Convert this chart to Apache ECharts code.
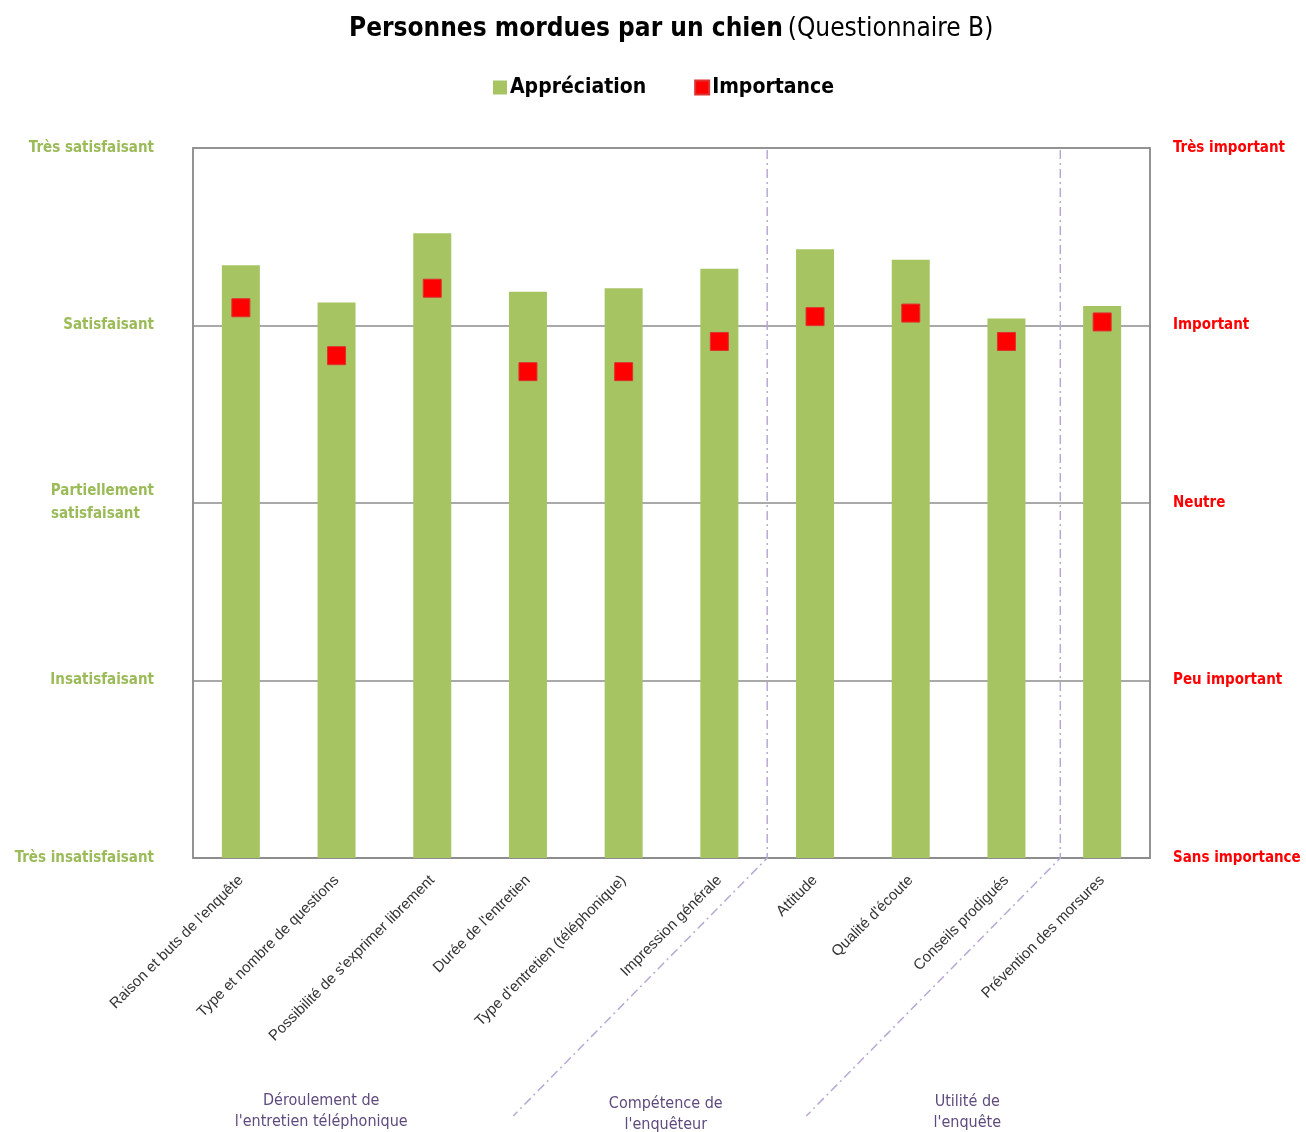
<!DOCTYPE html>
<html><head><meta charset="utf-8">
<script src="https://cdn.jsdelivr.net/npm/echarts@6/dist/echarts.min.js"></script>
<style>html,body{margin:0;padding:0;background:#fff;overflow:hidden}#c{width:1306px;height:1132px}</style>
</head><body><div id="c"></div>
<script>
const categories = [
  "Raison et buts de l'enquête",
  "Type et nombre de questions",
  "Possibilité de s'exprimer librement",
  "Durée de l'entretien",
  "Type d'entretien (téléphonique)",
  "Impression générale",
  "Attitude",
  "Qualité d'écoute",
  "Conseils prodigués",
  "Prévention des morsures"
];
const appreciation = [4.34, 4.13, 4.52, 4.19, 4.21, 4.32, 4.43, 4.37, 4.04, 4.11];
const importance   = [4.10, 3.83, 4.21, 3.74, 3.74, 3.91, 4.05, 4.07, 3.91, 4.02];
const leftLabels  = ["Très insatisfaisant", "Insatisfaisant", "Partiellement\nsatisfaisant   ", "Satisfaisant", "Très satisfaisant"];
const rightLabels = ["Sans importance", "Peu important", "Neutre", "Important", "Très important"];
const groupNames  = ["Déroulement de\nl'entretien téléphonique", "Compétence de\nl'enquêteur", "Utilité de\nl'enquête"];
const separatorAfter = [5, 8]; // separator drawn after these category indices

const NARROW = '"Liberation Sans Narrow", "Arial Narrow", "DejaVu Sans Condensed", sans-serif';
const GREEN = '#a6c462';
const RED = '#ff0000';

const chart = echarts.init(document.getElementById('c'), null, {renderer: 'canvas', width: 1306, height: 1132});
const option = {
  animation: false,
  backgroundColor: '#fff',
  title: {
    text: '{b|Personnes mordues par un chien} {n|(Questionnaire B)}',
    left: 344, top: 11,
    textStyle: {
      rich: {
        b: {fontFamily: NARROW, fontWeight: 'bold', fontSize: 26, color: '#000'},
        n: {fontFamily: NARROW, fontWeight: 'normal', fontSize: 26, color: '#000'}
      }
    }
  },
  legend: {
    top: 72, left: 488, itemGap: 48, itemWidth: 14, itemHeight: 14,
    textStyle: {fontFamily: NARROW, fontWeight: 'bold', fontSize: 21, color: '#000', padding: [0,0,0,-2]},
    data: [{name: 'Appréciation', icon: 'rect'}, {name: 'Importance', icon: 'rect'}]
  },
  grid: {left: 193, width: 957, top: 148, height: 710, show: true, borderColor: '#8c8c8c', borderWidth: 1.5,
    containLabel: false, outerBoundsMode: 'none'},
  xAxis: {
    type: 'category', data: categories,
    axisLine: {lineStyle: {color: '#8c8c8c', width: 1.5}},
    axisTick: {show: false},
    axisLabel: {rotate: 45, interval: 0, margin: 20, fontFamily: '"Liberation Sans", Arial, sans-serif', fontSize: 15, color: '#333'}
  },
  yAxis: [
    {
      type: 'value', min: 1, max: 5, interval: 1, position: 'left',
      axisLine: {show: true, lineStyle: {color: '#8c8c8c', width: 1.5}},
      axisTick: {show: false},
      splitLine: {lineStyle: {color: '#8c8c8c', width: 1.5}},
      axisLabel: {margin: 39, fontFamily: NARROW, fontWeight: 'bold', fontSize: 15, color: '#9bbb59', align: 'right', lineHeight: 23,
        formatter: v => leftLabels[Math.round(v) - 1]}
    },
    {
      type: 'value', min: 1, max: 5, interval: 1, position: 'right',
      axisLine: {show: true, lineStyle: {color: '#8c8c8c', width: 1.5}},
      axisTick: {show: false},
      splitLine: {show: false},
      axisLabel: {margin: 23, fontFamily: NARROW, fontWeight: 'bold', fontSize: 15, color: RED, align: 'left',
        formatter: v => rightLabels[Math.round(v) - 1]}
    }
  ],
  series: [
    {name: 'Appréciation', type: 'bar', data: appreciation, barWidth: 38, itemStyle: {color: GREEN}, z: 2},
    {name: 'Importance', type: 'scatter', yAxisIndex: 1, data: importance, symbol: 'rect', symbolSize: 18,
      itemStyle: {color: RED, borderColor: '#d33', borderWidth: 1, opacity: 1}, z: 3}
  ]
};
chart.setOption(option);

function drawDecor() {
  const gridBottom = chart.convertToPixel({yAxisIndex: 0}, 1);
  const gridTop = chart.convertToPixel({yAxisIndex: 0}, 5);
  const nudge = [0, 6];
  const seps = separatorAfter.map((i, k) => {
    const a = chart.convertToPixel({xAxisIndex: 0}, i);
    const b = chart.convertToPixel({xAxisIndex: 0}, i + 1);
    return (a + b) / 2 + nudge[k];
  });
  const dropX = 254, dropY = 258;
  const elements = [];
  seps.forEach(x => {
    elements.push({
      type: 'polyline', silent: true, z: 1,
      shape: {points: [[x, gridTop + 2], [x, gridBottom], [x - dropX, gridBottom + dropY]]},
      style: {fill: null, stroke: '#b8a9d4', lineWidth: 1.5, lineDash: [9, 4, 2, 4]}
    });
  });
  const b1 = seps[0] - dropX, b2 = seps[1] - dropX;
  const labelX = [b1 - 192, (b1 + b2) / 2 + 6, b2 + 161];
  const labelY = [1111, 1114, 1112];
  groupNames.forEach((t, k) => {
    elements.push({
      type: 'text', silent: true,
      x: labelX[k], y: labelY[k],
      style: {text: t, x: 0, y: 0, align: 'center', verticalAlign: 'middle', fill: '#5f4a7d',
        font: 'normal 16px ' + NARROW, lineHeight: 21}
    });
  });
  chart.setOption({graphic: {elements}});
}
drawDecor();
</script>
</body></html>
